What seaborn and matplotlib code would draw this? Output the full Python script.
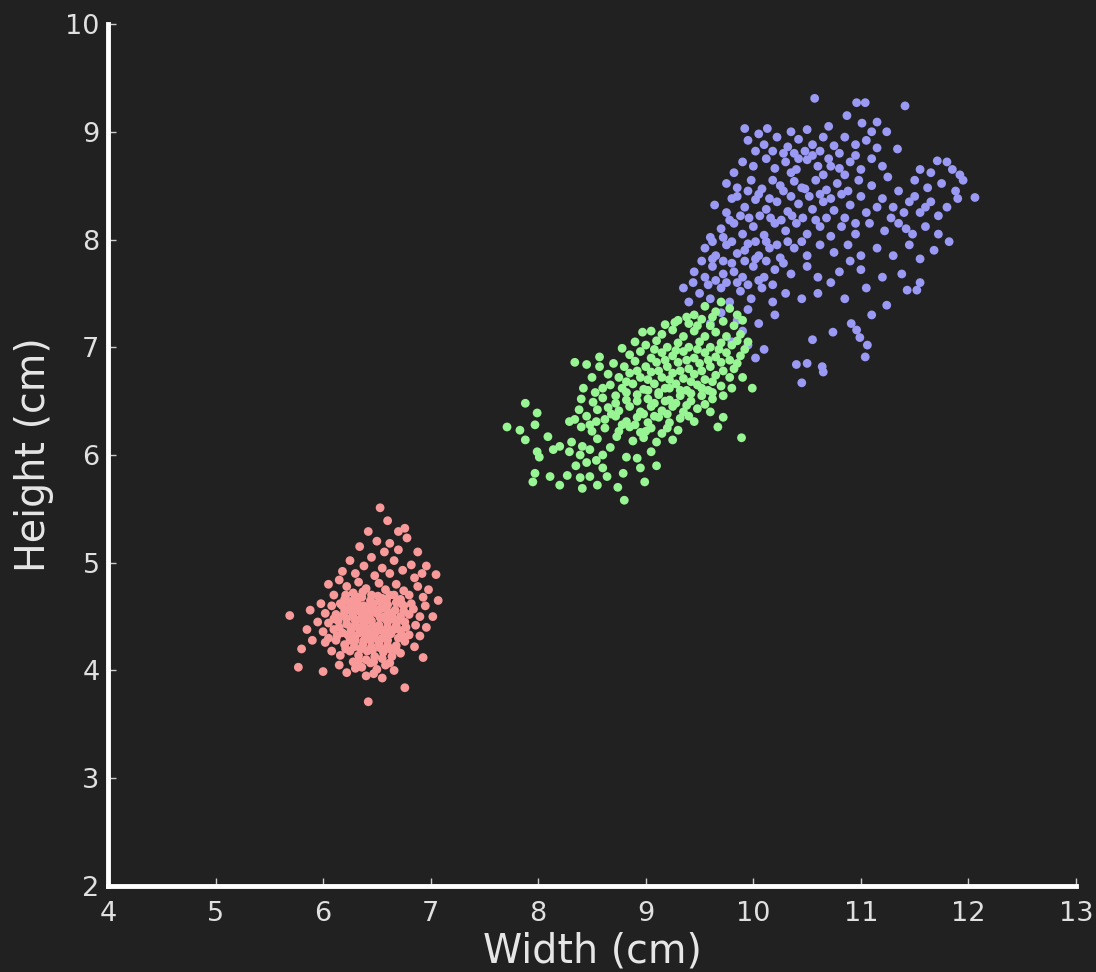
import pandas as pd
import numpy as np
import matplotlib
matplotlib.use("Agg")
import matplotlib.pyplot as plt
import seaborn as sns

# Point positions (width, height in cm)
pink_pts = [
    (6.53,5.51),(6.60,5.39),(6.42,5.29),(6.70,5.29),(6.76,5.32),(6.50,5.20),(6.78,5.23),(6.62,5.18),(6.34,5.15),(6.88,5.10),(6.70,5.12),(6.57,5.10),
    (6.25,5.02),(6.45,5.05),(6.66,5.02),(6.82,4.98),(6.96,4.97),(6.38,4.97),(6.55,4.95),(6.74,4.93),(6.92,4.90),(6.18,4.92),(6.30,4.90),(6.62,4.90),(7.05,4.89),(6.48,4.88),(6.85,4.86),
    (6.05,4.80),(6.15,4.84),(6.22,4.78),(6.33,4.82),(6.40,4.76),(6.52,4.81),(6.58,4.75),(6.68,4.80),(6.75,4.74),(6.88,4.78),(6.98,4.75),(6.28,4.72),(6.45,4.70),(6.62,4.70),(6.80,4.70),(6.93,4.68),(6.10,4.70),(7.07,4.65),(6.36,4.68),(6.55,4.67),(6.72,4.66),(6.20,4.66),
    (5.98,4.62),(6.08,4.60),(6.16,4.62),(6.25,4.58),(6.32,4.62),(6.40,4.57),(6.47,4.62),(6.53,4.57),(6.60,4.61),(6.67,4.56),(6.75,4.60),(6.84,4.57),(6.95,4.60),(7.02,4.50),(5.88,4.56),(5.69,4.51),(6.02,4.53),(6.12,4.52),(6.20,4.55),(6.28,4.50),(6.36,4.53),(6.43,4.50),(6.50,4.53),(6.57,4.50),(6.64,4.52),(6.72,4.50),(6.80,4.52),(6.90,4.50),(6.24,4.64),(6.44,4.65),(6.68,4.63),(6.34,4.55),
    (5.95,4.45),(6.05,4.44),(6.14,4.46),(6.22,4.43),(6.30,4.46),(6.38,4.42),(6.45,4.46),(6.52,4.42),(6.60,4.45),(6.68,4.42),(6.76,4.45),(6.86,4.42),(6.96,4.40),(5.85,4.38),(6.00,4.36),(6.10,4.38),(6.18,4.35),(6.26,4.38),(6.34,4.35),(6.42,4.38),(6.48,4.34),(6.56,4.37),(6.63,4.34),(6.72,4.37),(6.80,4.33),(6.90,4.32),(6.40,4.48),(6.58,4.48),(6.33,4.40),
    (5.90,4.28),(6.02,4.26),(6.12,4.28),(6.20,4.24),(6.30,4.28),(6.37,4.24),(6.44,4.28),(6.52,4.25),(6.60,4.28),(6.68,4.23),(6.76,4.27),(6.85,4.22),(6.08,4.18),(6.16,4.14),(6.25,4.18),(6.33,4.14),(6.41,4.18),(6.48,4.13),(6.56,4.17),(6.64,4.13),(6.72,4.16),(6.93,4.12),(5.80,4.20),(6.40,4.31),
    (6.00,3.99),(5.77,4.03),(6.15,4.05),(6.28,4.08),(6.36,4.03),(6.44,4.07),(6.50,4.01),(6.58,4.05),(6.66,4.00),(6.22,3.98),(6.40,3.95),(6.55,3.93),(6.47,3.97),(6.76,3.84),(6.42,3.71),(6.30,4.02),
    (6.27,4.62),(6.35,4.48),(6.47,4.56),(6.53,4.64),(6.60,4.40),(6.30,4.32),(6.45,4.22),(6.55,4.30),(6.65,4.48),(6.38,4.60),(6.22,4.48),(6.50,4.40),(6.62,4.20),(6.35,4.20),(6.25,4.28),(6.70,4.30),(6.42,4.52),(6.57,4.58),(6.48,4.30),(6.32,4.68),(6.15,4.40),(6.75,4.55),(6.40,4.10),(6.18,4.60),
    (6.21,4.70),(6.29,4.66),(6.37,4.73),(6.43,4.59),(6.51,4.69),(6.59,4.66),(6.66,4.70),(6.73,4.62),(6.19,4.51),(6.27,4.54),(6.31,4.58),(6.39,4.45),(6.46,4.41),(6.53,4.49),(6.61,4.54),(6.69,4.46),(6.77,4.40),(6.13,4.32),(6.23,4.33),(6.29,4.41),
    (6.37,4.36),(6.44,4.33),(6.51,4.37),(6.59,4.33),(6.66,4.38),(6.74,4.32),(6.21,4.20),(6.29,4.22),(6.38,4.28),(6.46,4.19),(6.53,4.21),(6.60,4.23),(6.68,4.19),(6.33,4.09),(6.47,4.08),(6.55,4.11),(6.62,4.07),(6.10,4.48),(6.05,4.30),(6.82,4.62),
]

green_pts = [
    (9.55,7.38),(9.65,7.33),(9.78,7.36),(9.85,7.30),(9.45,7.30),(9.70,7.42),
    (9.30,7.25),(9.40,7.22),(9.52,7.26),(9.60,7.20),(9.72,7.24),(9.82,7.20),(9.90,7.25),(9.18,7.21),(9.27,7.23),
    (9.05,7.15),(9.15,7.12),(9.25,7.16),(9.35,7.10),(9.45,7.15),(9.55,7.10),(9.65,7.14),(9.75,7.10),(9.88,7.12),(8.97,7.14),
    (8.90,7.05),(9.00,7.02),(9.10,7.06),(9.20,7.00),(9.30,7.04),(9.40,7.00),(9.50,7.05),(9.60,7.00),(9.70,7.04),(9.80,7.02),(9.95,7.05),
    (8.78,6.99),(8.85,6.93),(8.95,6.96),(9.05,6.90),(9.15,6.95),(9.25,6.92),(9.35,6.96),(9.45,6.90),(9.55,6.95),(9.65,6.91),(9.75,6.95),(9.88,6.92),
    (8.57,6.91),(8.70,6.85),(8.80,6.82),(8.90,6.87),(9.00,6.82),(9.10,6.86),(9.20,6.82),(9.30,6.86),(9.40,6.80),(9.50,6.85),(9.60,6.82),(9.70,6.86),(9.82,6.80),(8.34,6.86),(8.45,6.84),(8.57,6.82),
    (8.65,6.75),(8.75,6.72),(8.85,6.76),(8.95,6.72),(9.05,6.77),(9.15,6.72),(9.25,6.76),(9.35,6.71),(9.45,6.75),(9.55,6.70),(9.65,6.74),(9.78,6.72),(8.50,6.72),
    (8.67,6.65),(8.78,6.62),(8.88,6.66),(8.98,6.61),(9.08,6.66),(9.18,6.62),(9.28,6.66),(9.38,6.60),(9.48,6.65),(9.58,6.60),(9.70,6.64),(9.99,6.62),(8.53,6.58),(8.42,6.62),
    (8.60,6.53),(8.72,6.55),(8.82,6.51),(8.92,6.56),(9.02,6.52),(9.12,6.56),(9.22,6.51),(9.32,6.55),(9.42,6.50),(9.52,6.55),(9.62,6.52),(8.51,6.49),(8.40,6.52),
    (8.65,6.44),(8.75,6.41),(8.85,6.45),(8.95,6.40),(9.05,6.45),(9.15,6.41),(9.25,6.45),(9.35,6.40),(9.48,6.43),(9.60,6.40),(8.55,6.42),(7.88,6.48),(7.99,6.39),
    (8.62,6.33),(8.72,6.36),(8.82,6.31),(8.92,6.35),(9.02,6.30),(9.12,6.35),(9.22,6.30),(9.32,6.34),(9.45,6.31),(9.72,6.35),(8.29,6.31),(8.34,6.33),(8.54,6.31),(8.45,6.36),
    (8.62,6.25),(8.75,6.22),(8.85,6.26),(8.95,6.21),(9.05,6.25),(9.15,6.20),(9.30,6.23),(9.67,6.26),(7.71,6.26),(7.83,6.23),(7.97,6.28),(8.50,6.22),(8.40,6.26),
    (8.73,6.17),(8.88,6.13),(8.98,6.16),(9.10,6.12),(9.89,6.16),(7.88,6.14),(8.09,6.17),(8.31,6.12),(8.55,6.15),(9.25,6.14),
    (8.14,6.05),(8.29,6.03),(8.39,6.00),(8.48,6.05),(8.67,6.07),(8.41,6.08),(8.20,6.08),(7.99,6.03),(8.01,5.98),(8.82,5.98),(8.92,5.97),(9.05,6.03),(8.60,6.00),
    (8.54,5.95),(8.45,5.93),(7.97,5.83),(8.11,5.80),(8.27,5.81),(8.39,5.79),(8.48,5.80),(8.64,5.80),(8.79,5.83),(8.95,5.88),(8.35,5.90),(8.60,5.88),(9.10,5.90),
    (7.95,5.75),(8.41,5.69),(8.74,5.70),(8.80,5.58),(8.99,5.75),(8.20,5.72),(8.55,5.72),
    (9.08,6.98),(9.18,6.88),(9.28,6.97),(9.38,6.88),(9.48,6.98),(9.58,6.88),(9.68,6.98),(9.78,6.88),(9.12,6.78),(9.22,6.70),(9.32,6.78),(9.42,6.68),(9.52,6.78),(9.62,6.68),(9.72,6.78),(9.02,6.70),(8.92,6.78),(8.82,6.68),
    (9.12,6.58),(9.22,6.62),(9.32,6.60),(9.42,6.57),(9.52,6.62),(9.62,6.58),(9.02,6.60),(8.92,6.50),(8.82,6.58),(9.08,6.48),(9.18,6.50),(9.28,6.48),(9.38,6.46),(9.55,6.47),(8.72,6.48),(8.98,6.38),(9.08,6.36),(9.20,6.38),
    (9.40,6.36),(8.78,6.28),(8.90,6.28),(9.00,6.22),(9.20,6.25),(9.38,7.28),(9.48,7.20),(9.62,7.28),(9.85,7.06),(9.92,6.98),(9.85,6.85),(9.90,6.72),(9.72,6.55),(9.80,6.62),(8.60,6.62),(8.68,6.38),(8.48,6.28),(8.38,6.42),
]

blue_pts = [
    (10.57,9.31),(10.96,9.27),(11.04,9.27),(11.41,9.24),(9.92,9.03),(10.13,9.03),(10.87,9.15),(11.01,9.08),(11.15,9.09),(11.24,9.00),(10.70,9.05),(10.50,9.02),(10.05,8.98),(10.35,9.00),(11.10,9.00),
    (9.95,8.92),(10.10,8.88),(10.22,8.95),(10.32,8.86),(10.42,8.93),(10.55,8.88),(10.65,8.95),(10.75,8.87),(10.85,8.95),(10.95,8.88),(11.05,8.92),(11.34,8.84),(10.02,8.82),(10.48,8.82),(10.80,8.80),(11.15,8.85),(10.28,8.80),
    (9.90,8.72),(10.00,8.68),(10.12,8.75),(10.20,8.66),(10.30,8.72),(10.40,8.65),(10.50,8.74),(10.60,8.68),(10.70,8.75),(10.80,8.66),(10.90,8.72),(11.00,8.65),(11.10,8.75),(11.71,8.73),(11.80,8.72),(11.92,8.60),(11.55,8.65),(11.65,8.62),(11.85,8.65),(10.35,8.62),(10.65,8.60),(11.20,8.68),(9.82,8.62),
    (9.75,8.52),(9.85,8.48),(9.98,8.55),(10.08,8.47),(10.18,8.55),(10.28,8.45),(10.38,8.54),(10.48,8.47),(10.58,8.55),(10.68,8.46),(10.78,8.52),(10.88,8.45),(10.98,8.55),(11.10,8.50),(11.35,8.45),(11.50,8.55),(11.62,8.48),(11.75,8.52),(11.88,8.45),(11.95,8.55),(12.06,8.39),(11.25,8.58),(10.52,8.40),
    (9.64,8.32),(9.75,8.25),(9.80,8.38),(9.92,8.30),(10.02,8.37),(10.12,8.28),(10.22,8.35),(10.32,8.26),(10.42,8.33),(10.55,8.28),(10.65,8.35),(10.75,8.27),(10.90,8.32),(11.05,8.25),(11.20,8.38),(11.30,8.30),(11.45,8.35),(11.55,8.25),(11.65,8.35),(11.80,8.30),(11.90,8.38),(11.72,8.22),(10.85,8.20),
    (9.70,8.10),(9.82,8.15),(9.90,8.05),(10.00,8.12),(10.10,8.04),(10.20,8.15),(10.30,8.08),(10.40,8.15),(10.50,8.05),(10.62,8.12),(10.72,8.03),(10.82,8.12),(10.95,8.05),(11.08,8.15),(11.22,8.08),(11.35,8.15),(11.48,8.05),(11.60,8.12),(11.72,8.05),(11.82,7.98),(9.60,8.02),
    (9.55,7.92),(9.65,7.85),(9.75,7.95),(9.85,7.87),(9.95,7.96),(10.05,7.85),(10.15,7.92),(10.25,7.83),(10.38,7.92),(10.50,7.85),(10.62,7.95),(10.75,7.88),(10.88,7.95),(11.00,7.85),(11.15,7.92),(11.30,7.85),(11.45,7.95),(11.55,7.82),(11.68,7.90),(10.90,7.80),
    (9.45,7.70),(9.55,7.65),(9.62,7.75),(9.72,7.68),(9.80,7.78),(9.90,7.65),(10.00,7.75),(10.10,7.65),(10.20,7.72),(10.35,7.68),(10.50,7.75),(10.60,7.65),(10.80,7.70),(11.00,7.72),(11.20,7.65),(11.38,7.68),(11.55,7.60),(9.44,7.60),(10.72,7.60),
    (9.50,7.50),(9.40,7.42),(9.60,7.45),(9.70,7.55),(9.78,7.42),(9.88,7.52),(9.98,7.45),(10.08,7.55),(10.18,7.42),(10.30,7.50),(10.45,7.45),(10.60,7.50),(10.85,7.45),(11.05,7.55),(11.43,7.53),(11.52,7.53),(11.24,7.39),(9.35,7.55),
    (9.70,7.32),(9.85,7.25),(9.95,7.35),(10.05,7.22),(10.20,7.30),(9.60,7.22),(10.91,7.22),(10.96,7.16),(10.74,7.14),(11.10,7.30),(9.90,7.15),
    (10.99,7.09),(11.06,7.02),(11.04,6.91),(10.55,7.07),(10.40,6.84),(10.45,6.67),(10.50,6.85),(10.64,6.82),(10.65,6.77),(9.95,7.02),(10.10,6.98),(9.80,7.05),(10.02,6.90),
    (9.85,8.40),(9.95,8.45),(10.05,8.42),(10.15,8.38),(10.25,8.50),(10.35,8.40),(10.45,8.48),(10.62,8.42),(10.72,8.38),(10.82,8.42),(9.78,8.18),(9.88,8.22),(9.96,8.20),(10.06,8.22),(10.16,8.20),(10.26,8.18),(10.36,8.22),(10.46,8.20),
    (10.58,8.18),(10.68,8.20),(9.62,7.98),(9.72,8.02),(9.80,7.98),(9.92,7.90),(10.02,7.98),(10.12,7.98),(10.22,7.95),(10.32,7.98),(10.45,7.98),(9.52,7.80),(9.62,7.82),(9.72,7.80),(9.82,7.70),(9.92,7.80),(10.02,7.82),(10.12,7.80),
    (10.28,7.78),(9.58,7.58),(9.65,7.62),(9.75,7.60),(9.85,7.60),(9.95,7.58),(10.05,7.62),(10.18,7.58),(10.42,8.75),(10.55,8.78),(10.62,8.82),(10.72,8.68),(10.85,8.60),(10.95,8.78),(10.18,8.82),(10.38,8.80),(11.28,8.20),(11.40,8.25),
    (11.50,8.40),(11.60,8.30),(11.42,8.10),(11.15,8.30),(11.00,8.40),(10.95,8.15),
]

groups = ["blue", "green", "pink"]
palette = {"pink": "#f99a9a", "green": "#98f593", "blue": "#9a9af5"}

rows = []
for name, pts in zip(groups, [blue_pts, green_pts, pink_pts]):
    for w, h in pts:
        rows.append({"Width": w, "Height": h, "group": name})
df = pd.DataFrame(rows)

sns.set_style("dark")
bg = "#212121"
fig = plt.figure(figsize=(10.96, 9.72), dpi=100, facecolor=bg)
ax = fig.add_axes([0.0985, 0.0885, 0.8833, 0.8868])
ax.set_facecolor(bg)

sns.scatterplot(data=df, x="Width", y="Height", hue="group", palette=palette,
                s=40, linewidth=0, legend=False, ax=ax)

ax.set_xlim(4, 13)
ax.set_ylim(2, 10)
ax.set_xticks(range(4, 14))
ax.set_yticks(range(2, 11))
ax.set_xlabel("Width (cm)", fontsize=28.5, color="#e6e6e6", labelpad=3)
ax.set_ylabel("Height (cm)", fontsize=28.5, color="#e6e6e6", labelpad=8)
ax.tick_params(axis="both", direction="in", length=6, width=1, color="#cccccc",
               labelcolor="#e0e0e0", labelsize=19.5, bottom=True, left=True)
ax.tick_params(axis="x", pad=11)
ax.tick_params(axis="y", pad=6)
ax.grid(False)
for side in ["top", "right"]:
    ax.spines[side].set_visible(False)
for side in ["left", "bottom"]:
    ax.spines[side].set_visible(True)
    ax.spines[side].set_color("white")
    ax.spines[side].set_linewidth(3.5)

fig.savefig("out.png", dpi=100, facecolor=bg)
